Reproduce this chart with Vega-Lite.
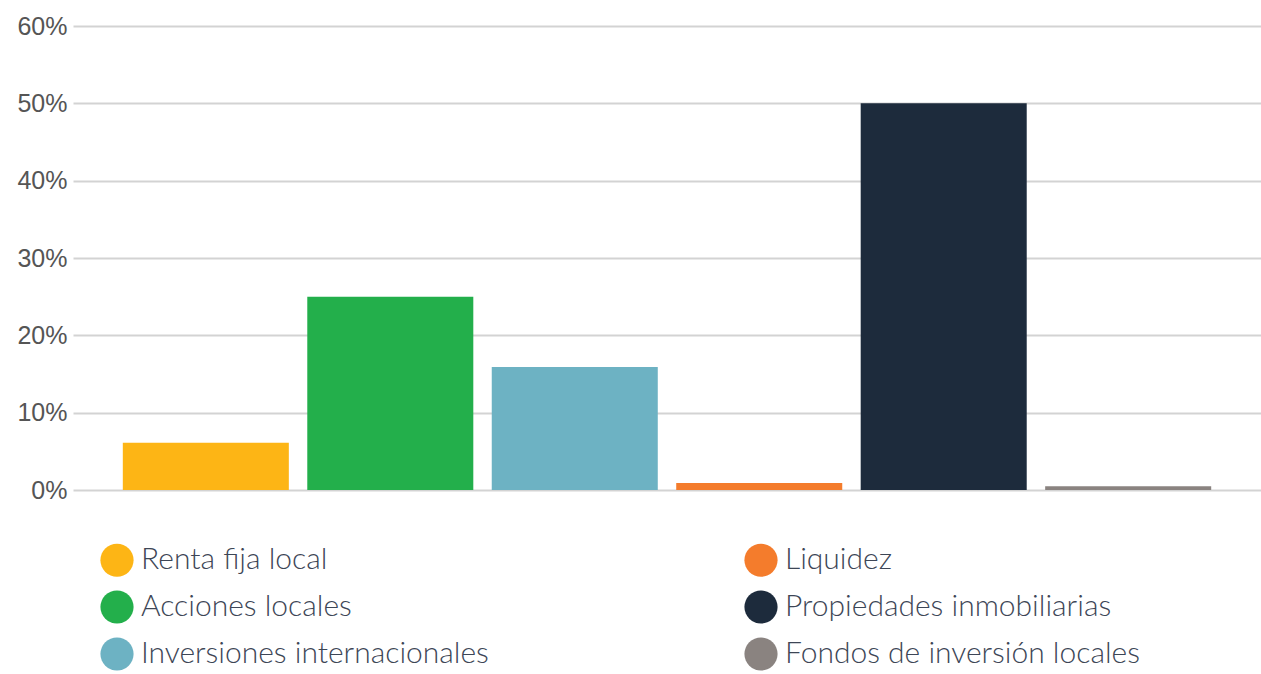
{
  "$schema": "https://vega.github.io/schema/vega-lite/v6.json",
  "width": 1188,
  "height": 464,
  "autosize": {"type": "none"},
  "padding": {"left": 73, "top": 26, "right": 0, "bottom": 184},
  "background": "white",
  "data": {
    "values": [
      {"cat": "Renta fija local", "v": 0.061},
      {"cat": "Acciones locales", "v": 0.25},
      {"cat": "Inversiones internacionales", "v": 0.159},
      {"cat": "Liquidez", "v": 0.009},
      {"cat": "Propiedades inmobiliarias", "v": 0.5},
      {"cat": "Fondos de inversión locales", "v": 0.005}
    ]
  },
  "mark": {"type": "bar"},
  "encoding": {
    "x": {
      "field": "cat", "type": "nominal", "sort": null,
      "scale": {"paddingInner": 0.1, "paddingOuter": 0.27},
      "axis": null
    },
    "y": {
      "field": "v", "type": "quantitative",
      "scale": {"domain": [0, 0.6], "nice": false},
      "axis": {
        "format": ".0%", "values": [0, 0.1, 0.2, 0.3, 0.4, 0.5, 0.6],
        "labelOverlap": false,
        "title": null, "domain": false, "ticks": false,
        "labelFont": "Liberation Sans", "labelFontSize": 25, "labelColor": "#555555",
        "labelPadding": 6,
        "gridColor": "#d3d3d3", "gridWidth": 2
      }
    },
    "color": {
      "field": "cat", "type": "nominal",
      "scale": {
        "domain": ["Renta fija local", "Liquidez", "Acciones locales", "Propiedades inmobiliarias", "Inversiones internacionales", "Fondos de inversión locales"],
        "range": ["#FDB515", "#F47C2C", "#23AF4B", "#1D2B3C", "#6DB2C3", "#8A8380"]
      },
      "legend": {
        "orient": "none", "legendX": 27, "legendY": 517,
        "direction": "horizontal", "columns": 2,
        "title": null, "symbolType": "circle", "symbolSize": 1100,
        "symbolStrokeWidth": 0, "symbolOpacity": 1,
        "labelFont": "Lato", "labelFontSize": 30, "labelFontWeight": 300, "labelColor": "#3d4656",
        "labelOffset": 7, "rowPadding": 13, "columnPadding": 255,
        "labelLimit": 500
      }
    }
  },
  "config": {"view": {"stroke": null}}
}
